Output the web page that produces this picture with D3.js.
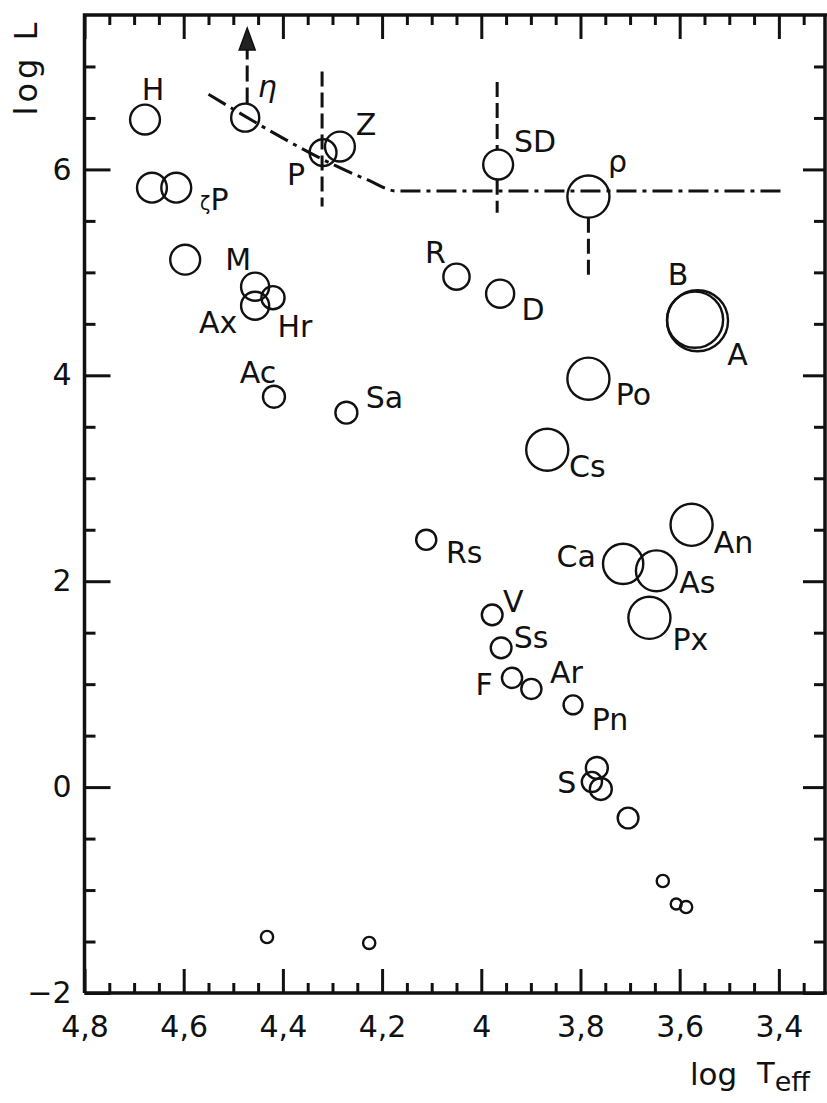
<!DOCTYPE html>
<html>
<head>
<meta charset="utf-8">
<script src="https://cdn.jsdelivr.net/npm/d3@7"></script>
<style>
  body { margin: 0; background: #fff; }
  svg { display: block; background: #fff; }
  text { font-family: "DejaVu Sans", sans-serif; fill: #111; }
</style>
</head>
<body>
<svg id="chart" width="827" height="1103"></svg>
<script>
// star symbols: label, log Teff, log L, relative symbol size
const starLabel = ["H", "η", "P", "Z", "", "ζP", "", "M", "Hr", "Ax", "Ac", "Sa",
  "SD", "ρ", "R", "D", "B", "A", "Po", "Cs", "An", "Ca", "As", "Px",
  "Rs", "V", "Ss", "F", "Ar", "Pn", "", "S", "", "", "", "", "", "", ""];
const logTeff = [4.678, 4.476, 4.319, 4.285, 4.664, 4.615, 4.597, 4.456, 4.420, 4.456, 4.418, 4.272,
  3.966, 3.784, 4.050, 3.962, 3.569, 3.564, 3.784, 3.867, 3.576, 3.714, 3.647, 3.661,
  4.111, 3.978, 3.960, 3.938, 3.899, 3.815, 3.767, 3.777, 3.759, 3.704, 3.634, 3.607, 3.587, 4.432, 4.226];
const logL = [6.484, 6.503, 6.163, 6.222, 5.823, 5.823, 5.123, 4.861, 4.754, 4.676, 3.792, 3.637,
  6.047, 5.736, 4.958, 4.793, 4.540, 4.530, 3.967, 3.277, 2.548, 2.169, 2.101, 1.644,
  2.402, 1.673, 1.353, 1.061, 0.954, 0.799, 0.186, 0.050, -0.018, -0.300, -0.912, -1.135, -1.165, -1.456, -1.514];
const symbolSize = [0.49, 0.46, 0.44, 0.49, 0.49, 0.49, 0.49, 0.46, 0.38, 0.46, 0.36, 0.36,
  0.49, 0.69, 0.43, 0.46, 0.92, 1.00, 0.69, 0.69, 0.69, 0.66, 0.67, 0.69,
  0.33, 0.34, 0.34, 0.33, 0.33, 0.31, 0.36, 0.33, 0.36, 0.34, 0.20, 0.18, 0.20, 0.20, 0.20];

// upper limit track (dash-dot)
const trackT = [4.55, 4.23, 4.17, 3.39];
const trackL = [6.73, 5.90, 5.79, 5.79];

// variability bars (dashed)
const barT = [4.321, 3.968, 3.968, 3.784];
const barFrom = [6.95, 6.85, 5.90, 5.53];
const barTo = [5.64, 6.19, 5.58, 4.96];

// eta Car upward arrow
const arrowT = 4.472, arrowFrom = 6.64, arrowTo = 7.16, arrowTip = 7.373;

// axes
const xMajor = [4.8, 4.6, 4.4, 4.2, 4.0, 3.8, 3.6, 3.4];
const xTickLabels = ["4,8", "4,6", "4,4", "4,2", "4", "3,8", "3,6", "3,4"];
const yMajor = [-2, 0, 2, 4, 6];
const yTickLabels = ["−2", "0", "2", "4", "6"];

// label placement (px offsets from symbol centre)
const labelOffset = {
  "H": [8, -20], "η": [22, -21], "P": [-27, 32], "Z": [26, -12], "ζP": [38, 22],
  "M": [-17, -17], "Hr": [22, 39], "Ax": [-37, 27], "Ac": [-16, -14], "Sa": [38, -5],
  "SD": [37, -13], "ρ": [29, -25], "R": [-21, -14], "D": [33, 26], "B": [-17, -35],
  "A": [40, 44], "Po": [45, 26], "Cs": [40, 27], "An": [42, 28], "Ca": [-47, 3],
  "As": [41, 22], "Px": [41, 32], "Rs": [38, 23], "V": [21, -3], "Ss": [30, 0],
  "F": [-28, 17], "Ar": [35, -6], "Pn": [37, 25], "S": [-25, 11]
};

const mLeft = 84.5, mRight = 825, mTop = 15, mBottom = 993;
const svg = d3.select("#chart");

const x = d3.scaleLinear().domain([4.8, 3.307]).range([mLeft, mRight]);
const y = d3.scaleLinear().domain([-2, 7.5]).range([mBottom, mTop]);
const r = d3.scaleLinear().domain([0, 1]).range([0, 30.5]);

const stars = logTeff.map((t, i) => ({ label: starLabel[i], t, l: logL[i], s: symbolSize[i] }));

// ticks
const xMinor = d3.range(4.8, 3.3, -0.05).map(v => +v.toFixed(2)).filter(v => xMajor.indexOf(v) < 0);
const yMinor = d3.range(-1.5, 7.5, 0.5).filter(v => yMajor.indexOf(v) < 0);

function styleAxis(g) {
  g.select(".domain").remove();
  g.selectAll(".tick line").attr("stroke", "#111").attr("stroke-width", 3);
  g.selectAll(".tick text").attr("font-size", 30).attr("fill", "#111")
    .attr("font-family", "DejaVu Sans, sans-serif");
}

svg.append("g").attr("transform", `translate(0,${mBottom})`)
  .call(d3.axisBottom(x).tickValues(xMinor).tickSize(-10).tickFormat(""))
  .call(styleAxis);
svg.append("g").attr("transform", `translate(0,${mBottom})`)
  .call(d3.axisBottom(x).tickValues(xMajor).tickSize(-24).tickPadding(23)
    .tickFormat((d, i) => xTickLabels[i]))
  .call(styleAxis);
svg.append("g").attr("transform", `translate(0,${mTop})`)
  .call(d3.axisTop(x).tickValues(xMinor).tickSize(-10).tickFormat(""))
  .call(styleAxis);
svg.append("g").attr("transform", `translate(0,${mTop})`)
  .call(d3.axisTop(x).tickValues(xMajor).tickSize(-24).tickFormat(""))
  .call(styleAxis);

svg.append("g").attr("transform", `translate(${mLeft},0)`)
  .call(d3.axisLeft(y).tickValues(yMinor).tickSize(-11).tickFormat(""))
  .call(styleAxis);
svg.append("g").attr("transform", `translate(${mLeft},0)`)
  .call(d3.axisLeft(y).tickValues(yMajor).tickSize(-26).tickPadding(13)
    .tickFormat((d, i) => yTickLabels[i]))
  .call(styleAxis);
svg.append("g").attr("transform", `translate(${mRight},0)`)
  .call(d3.axisRight(y).tickValues(yMinor).tickSize(-11).tickFormat(""))
  .call(styleAxis);
svg.append("g").attr("transform", `translate(${mRight},0)`)
  .call(d3.axisRight(y).tickValues(yMajor).tickSize(-22).tickFormat(""))
  .call(styleAxis);

// frame
svg.append("path")
  .attr("d", `M${mLeft},${mBottom}V${mTop}H827M${mLeft},${mBottom}H827M${mRight},${mTop}V${mBottom}`)
  .attr("fill", "none").attr("stroke", "#111").attr("stroke-width", 3.5);

// dash-dot track
const line = d3.line().x(d => x(d[0])).y(d => y(d[1])).curve(d3.curveMonotoneX);
svg.append("path")
  .attr("d", line(trackT.map((t, i) => [t, trackL[i]])))
  .attr("fill", "none").attr("stroke", "#111").attr("stroke-width", 3)
  .attr("stroke-dasharray", "20,6,4,6");

// dashed variability bars
svg.append("g").selectAll("line")
  .data(barT.map((t, i) => ({ t, a: barFrom[i], b: barTo[i] })))
  .join("line")
  .attr("x1", d => x(d.t)).attr("x2", d => x(d.t))
  .attr("y1", d => y(d.a)).attr("y2", d => y(d.b))
  .attr("stroke", "#111").attr("stroke-width", 3)
  .attr("stroke-dasharray", "15,6");

// eta arrow
svg.append("line")
  .attr("x1", x(arrowT)).attr("x2", x(arrowT))
  .attr("y1", y(arrowFrom)).attr("y2", y(arrowTo))
  .attr("stroke", "#111").attr("stroke-width", 3)
  .attr("stroke-dasharray", "16,6");
svg.append("path")
  .attr("d", `M${x(arrowT)},${y(arrowTip)}L${x(arrowT) + 8},${y(arrowTo)}L${x(arrowT) - 8},${y(arrowTo)}Z`)
  .attr("fill", "#222").attr("stroke", "#111").attr("stroke-width", 1.5);

// star symbols
svg.append("g").selectAll("circle")
  .data(stars)
  .join("circle")
  .attr("cx", d => x(d.t))
  .attr("cy", d => y(d.l))
  .attr("r", d => r(d.s))
  .attr("fill", "none")
  .attr("stroke", "#111")
  .attr("stroke-width", 2.4);

// star labels
const labels = svg.append("g").selectAll("text")
  .data(stars.filter(d => d.label))
  .join("text")
  .attr("x", d => x(d.t) + labelOffset[d.label][0])
  .attr("y", d => y(d.l) + labelOffset[d.label][1])
  .attr("text-anchor", "middle")
  .attr("font-size", 30)
  .attr("font-style", d => d.label === "η" ? "italic" : null);

labels.each(function(d) {
  const t = d3.select(this);
  if (d.label === "ζP") {
    t.append("tspan").attr("font-size", 19).text("ζ");
    t.append("tspan").text("P");
  } else {
    t.text(d.label);
  }
});

// axis titles
svg.append("text")
  .attr("transform", "translate(37,67) rotate(-90)")
  .attr("text-anchor", "middle")
  .attr("font-size", 32)
  .attr("letter-spacing", 4)
  .text("log L");

svg.append("text").attr("x", 690).attr("y", 1085).attr("font-size", 31).text("log");
const tt = svg.append("text").attr("x", 757).attr("y", 1083).attr("font-size", 29);
tt.append("tspan").text("T");
tt.append("tspan").attr("dy", 8).attr("font-size", 27).text("eff");
</script>
</body>
</html>
